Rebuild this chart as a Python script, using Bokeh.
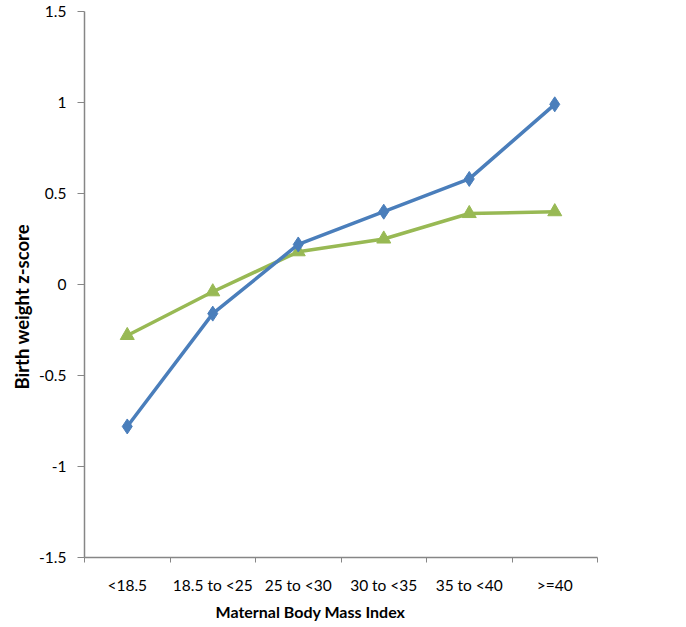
import numpy as np
from bokeh.plotting import figure
from bokeh.models import FixedTicker, Range1d, Title
from bokeh.embed import file_html
from bokeh.resources import INLINE

categories = ["<18.5", "18.5 to <25", "25 to <30", "30 to <35", "35 to <40", ">=40"]
series_blue = [-0.78, -0.16, 0.22, 0.40, 0.58, 0.99]
series_green = [-0.28, -0.04, 0.18, 0.25, 0.39, 0.40]
y_ticks = [-1.5, -1, -0.5, 0, 0.5, 1, 1.5]
y_tick_labels = ["-1.5", "-1", "-0.5", "0", "0.5", "1", "1.5"]

FONT = "Lato"
BLUE = "#4a7ebb"
GREEN = "#98b954"
AXIS = "#868686"
TXT = "#000000"

xs = np.arange(len(categories)) + 0.5

p = figure(output_backend="svg", toolbar_location=None,
           frame_width=513, frame_height=546,
           min_border_left=84, min_border_right=70,
           min_border_top=11, min_border_bottom=50,
           x_range=Range1d(0, len(categories)), y_range=Range1d(-1.5, 1.5))
p.outline_line_color = None
p.grid.grid_line_color = None
p.background_fill_color = "white"
p.border_fill_color = "white"

p.line(xs, series_green, line_color=GREEN, line_width=3.5)
p.scatter(xs, series_green, marker="triangle", size=14, fill_color=GREEN, line_color=GREEN)
p.line(xs, series_blue, line_color=BLUE, line_width=3.5)
p.scatter(xs, series_blue, marker="diamond", size=15, fill_color=BLUE, line_color=BLUE)

# x axis
xa = p.xaxis[0]
xa.ticker = FixedTicker(ticks=list(xs), minor_ticks=list(range(len(categories) + 1)))
xa.major_label_overrides = {float(x): c for x, c in zip(xs, categories)}
xa.major_tick_line_color = None
xa.major_tick_out = 0
xa.major_tick_in = 0
xa.minor_tick_line_color = AXIS
xa.minor_tick_out = 5
xa.minor_tick_in = 0
xa.axis_line_color = AXIS
xa.axis_line_width = 1.5
xa.major_label_standoff = 13
xa.major_label_text_font = FONT
xa.major_label_text_font_size = "15.5px"
xa.major_label_text_color = TXT

# y axis
ya = p.yaxis[0]
ya.ticker = FixedTicker(ticks=y_ticks)
ya.major_label_overrides = {float(t): l for t, l in zip(y_ticks, y_tick_labels)}
ya.major_tick_line_color = AXIS
ya.major_tick_out = 7
ya.major_tick_in = 0
ya.minor_tick_line_color = None
ya.axis_line_color = AXIS
ya.axis_line_width = 1.5
ya.major_label_standoff = 11
ya.major_label_text_font = FONT
ya.major_label_text_font_size = "15.5px"
ya.major_label_text_color = TXT

p.add_layout(Title(text="Birth weight z-score", align="left", offset=168,
                   text_font=FONT, text_font_style="bold", text_font_size="18.5px",
                   text_color=TXT, standoff=8), "left")

p.add_layout(Title(text="Maternal Body Mass Index", align="left", offset=131,
                   text_font=FONT, text_font_style="bold", text_font_size="16px",
                   text_color=TXT, standoff=6), "below")

open("out.html", "w").write(file_html(p, INLINE))
